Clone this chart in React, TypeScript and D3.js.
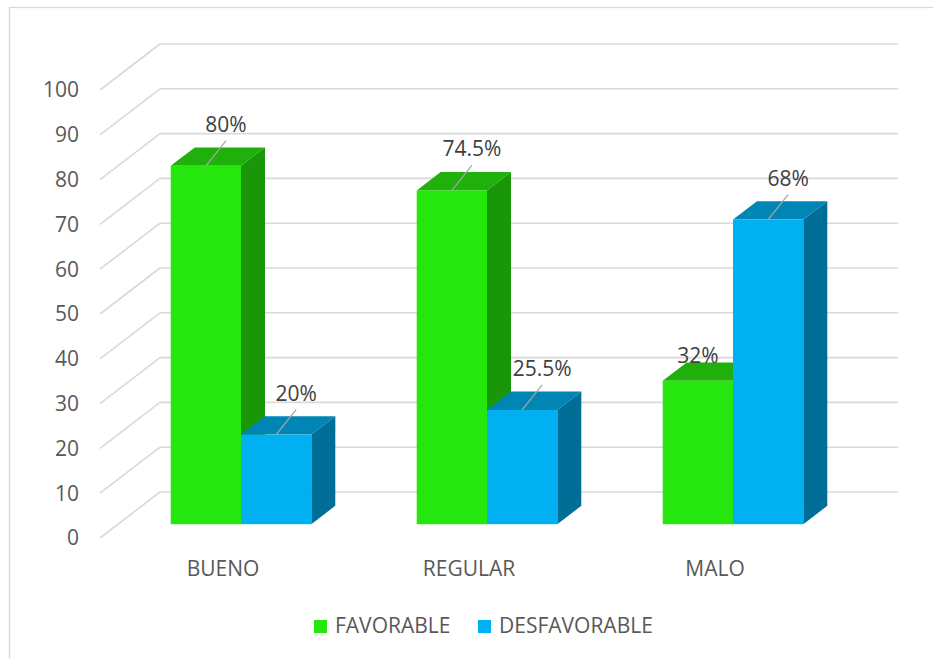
import React from "react";
import * as d3 from "d3";

const categories = ["BUENO", "REGULAR", "MALO"];
const seriesNames = ["FAVORABLE", "DESFAVORABLE"];
const favorable = [80, 74.5, 32];
const desfavorable = [20, 25.5, 68];
const valueLabels = [["80%", "74.5%", "32%"], ["20%", "25.5%", "68%"]];
const yTicks = [0, 10, 20, 30, 40, 50, 60, 70, 80, 90, 100];

const W = 933;
const H = 659;
const FONT = "'Open Sans', sans-serif";
const TEXT = "#595959";
const LABEL = "#404040";
const GRID = "#d9d9d9";

const faceColors = [
  { front: "#25e70e", top: "#1fb00b", side: "#1a9709" },
  { front: "#00b0f0", top: "#0085b5", side: "#006e96" },
];

// 3D projection: full depth offset
const DEPTH_X = 60;
const DEPTH_Y = -46;
const BAR_T0 = 0.3;
const BAR_T1 = 0.7;

export default function App() {
  const values = [favorable, desfavorable];
  const x = d3.scaleBand<string>().domain(categories).range([100, 838]).paddingInner(0).paddingOuter(0);
  const bw = x.bandwidth();
  const barW = bw / (2 + 1.5);
  const inner = d3
    .scaleBand<string>()
    .domain(seriesNames)
    .range([(bw - 2 * barW) / 2, (bw - 2 * barW) / 2 + 2 * barW]);
  const y = d3.scaleLinear().domain([0, 100]).range([538, 90]);

  const fdx = DEPTH_X * BAR_T0;
  const fdy = DEPTH_Y * BAR_T0;
  const ddx = DEPTH_X * (BAR_T1 - BAR_T0);
  const ddy = DEPTH_Y * (BAR_T1 - BAR_T0);

  const backLeft = 100 + DEPTH_X;
  const backRight = 838 + DEPTH_X;

  const bars: any[] = [];
  categories.forEach((c, ci) => {
    seriesNames.forEach((s, si) => {
      const v = values[si][ci];
      const x0 = (x(c) as number) + (inner(s) as number) + fdx;
      const x1 = x0 + barW;
      const ty = y(v) + fdy;
      const by = y(0) + fdy;
      const cx = (x0 + x1) / 2;
      // label placement: if the next bar in group is taller, put label straight above
      const next = si + 1 < seriesNames.length ? values[si + 1][ci] : -1;
      const blocked = next > v;
      bars.push({ key: c + s, si, x0, x1, ty, by, cx, blocked, label: valueLabels[si][ci] });
    });
  });

  const poly = (pts: number[][]) => pts.map((p) => p.join(",")).join(" ");

  return (
    <svg width={W} height={H} style={{ display: "block", position: "absolute", left: 0, top: 0 }}>
      <rect x={0} y={0} width={W} height={H} fill="#fff" />
      <rect x={9.5} y={7.5} width={1000} height={800} fill="none" stroke={GRID} strokeWidth={1.3} />

      {/* gridlines */}
      {yTicks.map((t) => (
        <g key={t}>
          <line x1={100} y1={y(t)} x2={backLeft} y2={y(t) + DEPTH_Y} stroke={GRID} strokeWidth={1.6} />
          <line x1={backLeft} y1={y(t) + DEPTH_Y} x2={backRight} y2={y(t) + DEPTH_Y} stroke={GRID} strokeWidth={1.6} />
        </g>
      ))}

      {/* y tick labels */}
      {yTicks.map((t) => (
        <text key={"l" + t} x={79} y={y(t)} dy="0.35em" textAnchor="end" fontFamily={FONT} fontSize={21} fill={TEXT}>
          {t}
        </text>
      ))}

      {/* bars */}
      {bars.map((b) => {
        const col = faceColors[b.si];
        return (
          <g key={b.key}>
            <polygon points={poly([[b.x1, b.ty], [b.x1 + ddx, b.ty + ddy], [b.x1 + ddx, b.by + ddy], [b.x1, b.by]])} fill={col.side} />
            <polygon points={poly([[b.x0, b.ty], [b.x1, b.ty], [b.x1 + ddx, b.ty + ddy], [b.x0 + ddx, b.ty + ddy]])} fill={col.top} />
            <rect x={b.x0} y={b.ty} width={b.x1 - b.x0} height={b.by - b.ty} fill={col.front} />
          </g>
        );
      })}

      {/* data labels */}
      {bars.map((b) =>
        b.blocked ? (
          <text key={"d" + b.key} x={b.cx} y={b.ty - 18} textAnchor="middle" fontFamily={FONT} fontSize={21} fill={LABEL}>
            {b.label}
          </text>
        ) : (
          <g key={"d" + b.key}>
            <line x1={b.cx} y1={b.ty} x2={b.cx + 20} y2={b.ty - 25} stroke="#a6a6a6" strokeWidth={1.3} />
            <text x={b.cx + 20} y={b.ty - 34} textAnchor="middle" fontFamily={FONT} fontSize={21} fill={LABEL}>
              {b.label}
            </text>
          </g>
        )
      )}

      {/* category labels */}
      {categories.map((c) => (
        <text key={"c" + c} x={(x(c) as number) + bw / 2} y={576} textAnchor="middle" fontFamily={FONT} fontSize={21} fill={TEXT}>
          {c}
        </text>
      ))}

      {/* legend */}
      {seriesNames.map((s, i) => {
        const lx = [314, 478][i];
        return (
          <g key={"lg" + s}>
            <rect x={lx} y={620} width={13} height={13} fill={faceColors[i].front} />
            <text x={lx + 21} y={633} fontFamily={FONT} fontSize={21} fill={TEXT}>
              {s}
            </text>
          </g>
        );
      })}
    </svg>
  );
}
